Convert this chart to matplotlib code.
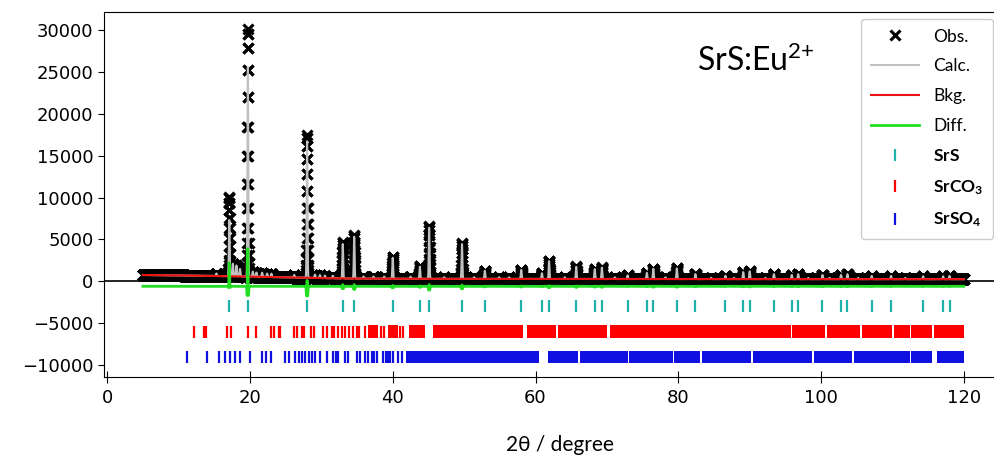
import numpy as np
import matplotlib
matplotlib.use("Agg")
import matplotlib.pyplot as plt

plt.rcParams['mathtext.fontset'] = 'custom'
plt.rcParams['mathtext.rm'] = 'Lato'
plt.rcParams['mathtext.bf'] = 'Lato:bold'
plt.rcParams['mathtext.default'] = 'regular'

# SrS reflections (2theta) and observed / calculated peak heights above background
srs_tt = [17.1, 19.7, 28.0, 33.0, 34.6, 40.0, 43.8, 45.1, 49.7, 52.9, 58.0, 60.9,
          61.9, 65.7, 68.3, 69.3, 72.9, 75.6, 76.5, 79.8, 82.4, 86.6, 89.1, 90.0,
          93.4, 95.9, 96.8, 100.2, 102.8, 103.7, 107.1, 109.8, 114.3, 117.1, 118.0]
srs_obs = [9500, 29500, 17000, 4300, 5200, 2600, 1500, 6300, 4300, 1000, 1100, 700,
           2200, 1500, 1200, 1400, 450, 750, 1250, 1300, 600, 400, 850, 950,
           600, 500, 600, 500, 500, 600, 400, 400, 350, 350, 400]
srs_calc = [6700, 25000, 16300, 4100, 5000, 2500, 1450, 6100, 4150, 970, 1070, 680,
            2130, 1460, 1170, 1360, 440, 730, 1220, 1270, 590, 390, 830, 930,
            590, 490, 590, 490, 490, 590, 390, 390, 340, 340, 390]

# small impurity peaks (SrCO3 / SrSO4)
imp_tt = [15.3, 17.6, 18.1, 18.6, 20.4, 20.9, 21.7, 22.4, 23.0, 26.2, 29.1, 29.8,
          30.5, 31.6, 35.9, 37.3, 38.8, 42.5, 47.2, 51.4, 54.9, 56.3, 64.1, 71.1,
          78.2, 84.6, 87.8, 92.2, 98.2, 101.2, 105.2, 111.8]
imp_h = [300, 1500, 1300, 900, 600, 500, 500, 400, 400, 300, 400, 350,
         300, 300, 250, 250, 250, 250, 200, 200, 200, 200, 200, 200,
         200, 150, 150, 150, 150, 150, 150, 150]

# background read at a few angles
bkg_tt = [5, 10, 15, 20, 25, 30, 35, 45, 60, 80, 100, 120]
bkg_val = [750, 700, 630, 560, 470, 380, 320, 290, 275, 265, 255, 250]

# reflection markers: single ticks and densely packed ranges
srco3_tt = [12.1, 13.5, 13.9, 16.8, 17.3, 19.7, 20.9, 22.9, 23.4, 24.0, 24.2, 26.1,
            26.6, 27.3, 27.6, 28.5, 29.0, 30.2, 30.8, 31.5, 31.8, 32.3, 32.9, 33.3,
            33.9, 34.4, 35.0, 35.3, 36.1, 38.4, 38.8, 41.0, 41.5]
srco3_bands = [(36.6, 37.9), (39.3, 40.8), (42.3, 44.5), (45.6, 58.3), (58.8, 62.9),
               (63.2, 70.0), (70.4, 95.8), (96.0, 100.6), (100.9, 105.5), (105.7, 110.0),
               (110.2, 112.4), (112.6, 115.6), (115.8, 120.0)]
srso4_tt = [11.2, 14.0, 15.7, 16.5, 17.2, 17.9, 18.6, 20.0, 21.7, 22.3, 23.0, 24.9,
            25.5, 26.3, 26.8, 27.3, 27.7, 28.2, 28.7, 29.1, 29.8, 30.8, 31.7, 32.0,
            32.4, 33.3, 33.8, 35.0, 35.4, 36.1, 36.6, 37.1, 37.4, 37.8, 38.7, 39.0,
            39.3, 39.6, 40.1, 40.8, 41.3]
srso4_bands = [(41.9, 60.5), (61.7, 66.0), (66.3, 72.9), (73.1, 79.2), (79.4, 83.0),
               (83.3, 90.2), (90.4, 98.8), (99.0, 104.4), (104.6, 112.4), (112.6, 115.6),
               (116.2, 120.0)]

tick_y = [-3000, -6000, -9000]
diff_offset = -600

# measured pattern on the instrument step grid
tt = np.arange(5.0, 120.0, 0.01)
sig = 0.05


def profile(pos, hts, s):
    p = np.asarray(pos)[:, None]
    h = np.asarray(hts)[:, None]
    return (h * np.exp(-0.5 * ((tt[None, :] - p) / s) ** 2)).sum(axis=0)


bkg = np.interp(tt, bkg_tt, bkg_val)
imp = profile(imp_tt, imp_h, 0.06)
obs = bkg + imp + profile(srs_tt, srs_obs, sig)
calc = bkg + imp + profile(srs_tt, srs_calc, sig * 1.12)
diff = obs - calc + diff_offset

fig = plt.figure(figsize=(9.95, 4.57), dpi=100)
ax = fig.add_axes([104 / 995, 1 - 377 / 457, (1015 - 104) / 995, (377 - 12) / 457])

ax.axhline(0, color='black', lw=1.2, zorder=1)
ax.plot(tt, obs, ls='none', marker='x', ms=7, mew=2.2, color='black', label='Obs.', zorder=2)
ax.plot(tt, calc, color='#c0c0c0', lw=1.5, label='Calc.', zorder=3)
ax.plot(bkg_tt, bkg_val, color='#ee1111', lw=1.5, label='Bkg.', zorder=4)
ax.plot(tt, diff, color='#22dd22', lw=2, label='Diff.', zorder=5)

phase_cols = ['#20b2aa', '#ff0000', '#1010e0']
phase_lbls = [r'$\mathbf{SrS}$', r'$\mathbf{SrCO_3}$', r'$\mathbf{SrSO_4}$']
ax.plot(srs_tt, [tick_y[0]] * len(srs_tt), ls='none', marker='|', ms=8.5, mew=1.6,
        color=phase_cols[0], label=phase_lbls[0])
ax.plot(srco3_tt, [tick_y[1]] * len(srco3_tt), ls='none', marker='|', ms=8.5, mew=1.6,
        color=phase_cols[1], label=phase_lbls[1])
ax.plot(srso4_tt, [tick_y[2]] * len(srso4_tt), ls='none', marker='|', ms=8.5, mew=1.6,
        color=phase_cols[2], label=phase_lbls[2])
ax.broken_barh([(a, b - a) for a, b in srco3_bands], (tick_y[1] - 720, 1440),
               facecolors=phase_cols[1], edgecolor='none')
ax.broken_barh([(a, b - a) for a, b in srso4_bands], (tick_y[2] - 720, 1440),
               facecolors=phase_cols[2], edgecolor='none')

ax.set_xlim(-0.45, (1015 - 107) / 7.14)
ax.set_ylim(-11430, 32150)
ax.set_xticks([0, 20, 40, 60, 80, 100, 120])
ax.set_yticks([-10000, -5000, 0, 5000, 10000, 15000, 20000, 25000, 30000])
ax.tick_params(axis='x', direction='inout', length=9, labelsize=13, pad=4)
ax.tick_params(axis='y', length=4, labelsize=13)
ax.set_xlabel('2θ / degree', family=['Lato', 'DejaVu Sans'], fontsize=15, labelpad=20)

fig.text(697 / 995, 1 - 61 / 457, r'SrS:Eu$^{2{+}}$', fontsize=23, va='center',
         family='Lato')

leg = ax.legend(loc='upper right', bbox_to_anchor=(993 / 995, 1 - 19 / 457),
                bbox_transform=fig.transFigure, borderaxespad=0,
                prop={'family': ['Lato', 'DejaVu Sans'], 'size': 12.5},
                handlelength=2.8, handletextpad=0.8, labelspacing=0.8,
                borderpad=0.55, fancybox=True, framealpha=1)
leg.get_frame().set_edgecolor('#cccccc')

fig.savefig('out.png', dpi=100)
